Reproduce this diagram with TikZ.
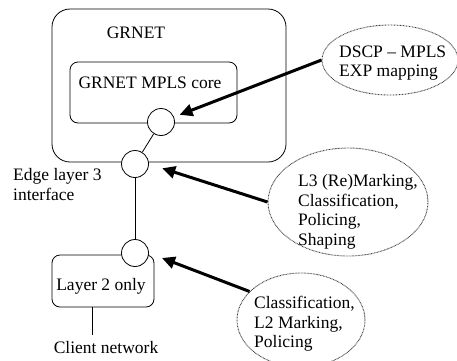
\documentclass[tikz,border=0pt]{standalone}
\usepackage{fontspec}
\setmainfont{Liberation Serif}
\usetikzlibrary{shapes.geometric,arrows.meta}
\begin{document}
\begin{tikzpicture}[x=1pt,y=-1pt,
  every node/.style={font=\fontsize{17.5}{19.5}\selectfont, inner sep=0pt},
  box/.style={draw, line width=0.8pt, rounded corners=#1},
  port/.style={draw, circle, line width=0.8pt, fill=white, minimum size=27pt},
  note/.style={draw=black!75, ellipse, line width=0.9pt, dash pattern=on 0.8pt off 0.7pt},
  txt/.style={align=left, anchor=west},
  wire/.style={line width=0.8pt},
  bigarrow/.style={line width=3pt, -{Triangle[length=13pt,width=12pt]}}
]
\useasboundingbox (0,0) rectangle (457,360);
\clip (0,0) rectangle (457,360);
% boxes
\node[box=18pt, minimum width=234pt, minimum height=153pt] (grnet) at (169,85.5) {};
\node (grnett) at (136,33) {GRNET};
\node[box=8pt, minimum width=167pt, minimum height=61pt] (core) at (153.5,92.5) {};
\node (coret) at (150,83) {GRNET MPLS core};
\node[box=8pt, minimum width=102pt, minimum height=52pt] (l2) at (103,281) {};
\node (l2t) at (101,286) {Layer 2 only};
% wires
\node[port] (c1) at (161,122) {};
\node[port] (c2) at (135,164) {};
\node[port] (c3) at (135,253) {};
\draw[wire] (c1) -- (c2);
\draw[wire] (c2) -- (c3);
\coordinate (cl) at (92,335);
\draw[wire] (l2.south -| cl) -- (cl);
\node (edge) [txt] at (13,184.5) {Edge layer 3\\interface};
\node (client) at (106,348) {Client network};
% notes
\node[note, minimum width=136pt, minimum height=70pt] (e1) at (390,60) {};
\node[txt] (t1) at (339,63) {DSCP -- MPLS\\EXP mapping};
\node[note, minimum width=160pt, minimum height=108pt] (e2) at (348,202) {};
\node[txt] (t2) at (298,212) {L3 (Re)Marking,\\Classification,\\Policing,\\Shaping};
\node[note, minimum width=128pt, minimum height=94pt] (e3) at (301,320) {};
\node[txt] (t3) at (254,324) {Classification,\\L2 Marking,\\Policing};
% arrows
\draw[bigarrow, shorten >=6pt] (e1.west) -- (c1);
\draw[bigarrow, shorten >=14pt] (e2.west) -- (c2.east);
\draw[bigarrow, shorten >=14pt] (e3.151) -- (c3.east);
\end{tikzpicture}
\end{document}
